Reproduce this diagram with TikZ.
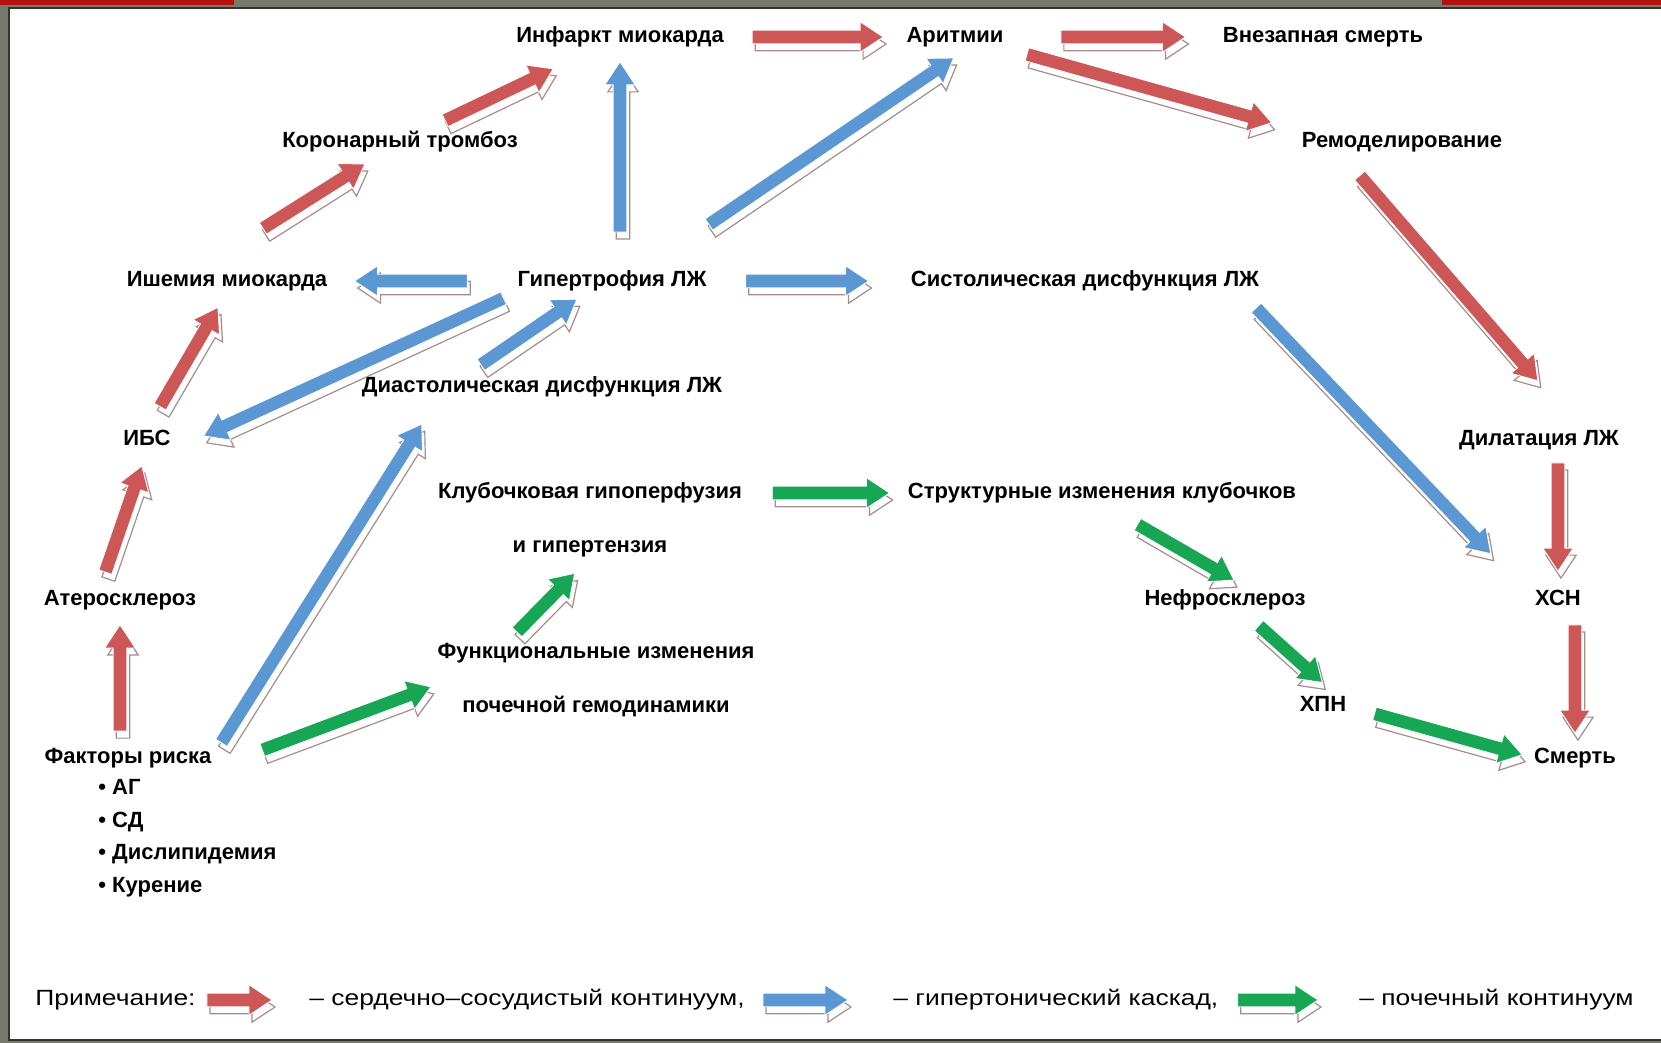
\documentclass[tikz,border=0pt]{standalone}
\usepackage{fontspec}
\setmainfont{Liberation Sans}
\newfontfamily\notefont[FakeStretch=1.2]{Liberation Sans}
\usetikzlibrary{calc,positioning}
\definecolor{cardio}{HTML}{CD5656}
\definecolor{hyper}{HTML}{5B97D3}
\definecolor{renal}{HTML}{17A653}
\definecolor{shadeline}{HTML}{A88C8C}
\definecolor{framegray}{HTML}{777A6C}
\definecolor{framered}{HTML}{B3130F}
\tikzset{
  lbl/.style={font=\bfseries\fontsize{11}{13}\selectfont, inner sep=0pt, text height=8pt, text depth=2.5pt},
  legend/.style={font=\notefont\fontsize{11}{13}\selectfont, inner sep=0pt, text height=8pt, text depth=2.5pt, anchor=west},
  flowshade/.style={draw=shadeline, line width=0.6pt, fill=white}
}
% #1 colour, #2 from, #3 to, #4 gap at the tail, #5 gap at the tip
\newcommand{\flowarrow}[5]{%
  \coordinate (ft) at ($#2!#4!#3$);
  \coordinate (fh) at ($#3!#5!#2$);
  \coordinate (fb) at ($(fh)!11.5pt!(ft)$);
  \path[flowshade] ($(ft)!3.4pt!90:(fh)+(1.5pt,-3.5pt)$) -- ($(fb)!3.4pt!90:(fh)+(1.5pt,-3.5pt)$)
    -- ($(fb)!7.6pt!90:(fh)+(1.5pt,-3.5pt)$) -- ($(fh)+(1.5pt,-3.5pt)$) -- ($(fb)!7.6pt!-90:(fh)+(1.5pt,-3.5pt)$)
    -- ($(fb)!3.4pt!-90:(fh)+(1.5pt,-3.5pt)$) -- ($(ft)!3.4pt!-90:(fh)+(1.5pt,-3.5pt)$) -- cycle;
  \path[fill=#1, draw=white, line width=0.4pt] ($(ft)!3.4pt!90:(fh)$) -- ($(fb)!3.4pt!90:(fh)$)
    -- ($(fb)!7.6pt!90:(fh)$) -- (fh) -- ($(fb)!7.6pt!-90:(fh)$)
    -- ($(fb)!3.4pt!-90:(fh)$) -- ($(ft)!3.4pt!-90:(fh)$) -- cycle;
}

\begin{document}
\begin{tikzpicture}[x=0.5pt,y=-0.5pt]
  \useasboundingbox (0,0) rectangle (1661,1043);
  \fill[framegray] (0,0) rectangle (1661,1043);
  \fill[white] (8.5,8) rectangle (1661,1039.5);
  \draw[black!80, line width=1pt] (1661,8) -- (8.5,8) -- (8.5,1039.5) -- (1661,1039.5);
  \fill[framered] (0,0) rectangle (234,5);
  \fill[framered] (1442,0) rectangle (1661,5);

  \node[lbl] (infarkt) at (620,37) {Инфаркт миокарда};
  \node[lbl] (aritm) at (955,37) {Аритмии};
  \node[lbl] (vnezap) at (1323,37) {Внезапная смерть};
  \node[lbl] (koron) at (400,142) {Коронарный тромбоз};
  \node[lbl] (remod) at (1402,142) {Ремоделирование};
  \node[lbl] (ishem) at (227,281) {Ишемия миокарда};
  \node[lbl] (gipert) at (612,281) {Гипертрофия ЛЖ};
  \node[lbl] (sistol) at (1085,281) {Систолическая дисфункция ЛЖ};
  \node[lbl] (diastol) at (542,387) {Диастолическая дисфункция ЛЖ};
  \node[lbl] (ibs) at (147,440) {ИБС};
  \node[lbl] (dilat) at (1539,440) {Дилатация ЛЖ};
  \node[lbl] (klub1) at (590,493) {Клубочковая гипоперфузия};
  \node[lbl] (klub2) [below=16pt of klub1] {и гипертензия};
  \node[lbl] (struct) at (1102,493) {Структурные изменения клубочков};
  \node[lbl] (ater) at (120,600) {Атеросклероз};
  \node[lbl] (nefro) at (1225,600) {Нефросклероз};
  \node[lbl] (hsn) at (1558,600) {ХСН};
  \node[lbl] (func1) at (596,653) {Функциональные изменения};
  \node[lbl] (func2) [below=16pt of func1] {почечной гемодинамики};
  \node[lbl] (hpn) at (1323,706) {ХПН};
  \node[lbl] (factor) at (128,758) {Факторы риска};
  \node[lbl] (smert) at (1575,758) {Смерть};
  \node[font=\bfseries\fontsize{11}{16.35}\selectfont, inner sep=0pt, align=left, anchor=north west] (riskl) at (98,779) {• АГ\\• СД\\• Дислипидемия\\• Курение};
  \coordinate (funcmid) at ($(func1.south west)!0.5!(func2.north west)$);

  \flowarrow{cardio}{(infarkt.east)}{(aritm.west)}{14pt}{11.5pt}
  \flowarrow{cardio}{(aritm.east)}{(vnezap.west)}{28.5pt}{18.5pt}
  \flowarrow{cardio}{(aritm.south east)}{(remod.north west)}{12pt}{15.5pt}
  \flowarrow{cardio}{(koron.center)}{(infarkt.center)}{25pt}{37pt}
  \flowarrow{cardio}{(ishem.160)}{(koron.212)}{39pt}{10.5pt}
  \flowarrow{cardio}{(ibs.north)}{(ishem.south)}{13pt}{9pt}
  \flowarrow{cardio}{(ater.152)}{(ibs.south)}{9pt}{8pt}
  \flowarrow{cardio}{(ater.south |- factor.north)}{(ater.south)}{8pt}{7pt}
  \flowarrow{cardio}{(remod.190)}{(dilat.15)}{15pt}{32pt}
  \flowarrow{cardio}{(hsn.north |- dilat.south)}{(hsn.north)}{6pt}{9pt}
  \flowarrow{cardio}{(smert.north |- hsn.south)}{(smert.north)}{7pt}{7pt}

  \flowarrow{hyper}{(infarkt.south |- gipert.north)}{(infarkt.south)}{19pt}{7pt}
  \flowarrow{hyper}{(gipert.20)}{(aritm.321)}{40.5pt}{9pt}
  \flowarrow{hyper}{(gipert.west)}{(ishem.east)}{25pt}{13.5pt}
  \flowarrow{hyper}{(gipert.east)}{(sistol.west)}{19.5pt}{21pt}
  \flowarrow{hyper}{(gipert.south west)}{(ibs.south east)}{7.5pt}{18pt}
  \flowarrow{hyper}{(diastol.172)}{(gipert.204)}{10pt}{6.5pt}
  \flowarrow{hyper}{(factor.east)}{(diastol.186)}{9pt}{15.5pt}
  \flowarrow{hyper}{(sistol.356)}{(hsn.west)}{11pt}{32pt}

  \flowarrow{renal}{(klub1.east)}{(struct.west)}{15pt}{9pt}
  \flowarrow{renal}{(func1.173)}{(klub2.south)}{7pt}{11pt}
  \flowarrow{renal}{(factor.south east)}{(funcmid)}{27pt}{10pt}
  \flowarrow{renal}{(struct.south)}{(nefro.24)}{20.5pt}{9pt}
  \flowarrow{renal}{(nefro.328)}{(hpn.39)}{11pt}{9.5pt}
  \flowarrow{renal}{(hpn.east)}{(smert.west)}{14.5pt}{6pt}

  \node[legend] (note) at (35,1000) {Примечание:};
  \node[legend] (lcardio) at (309,1000) {– сердечно–сосудистый континуум,};
  \node[legend] (lhyper) at (893,1000) {– гипертонический каскад,};
  \node[legend] (lrenal) at (1359,1000) {– почечный континуум};
  \flowarrow{cardio}{(note.east)}{(lcardio.west)}{5.5pt}{18.5pt}
  \flowarrow{hyper}{(lcardio.east)}{(lhyper.west)}{9pt}{22.5pt}
  \flowarrow{renal}{(lhyper.east)}{(lrenal.west)}{9.5pt}{20.5pt}
\end{tikzpicture}
\end{document}
